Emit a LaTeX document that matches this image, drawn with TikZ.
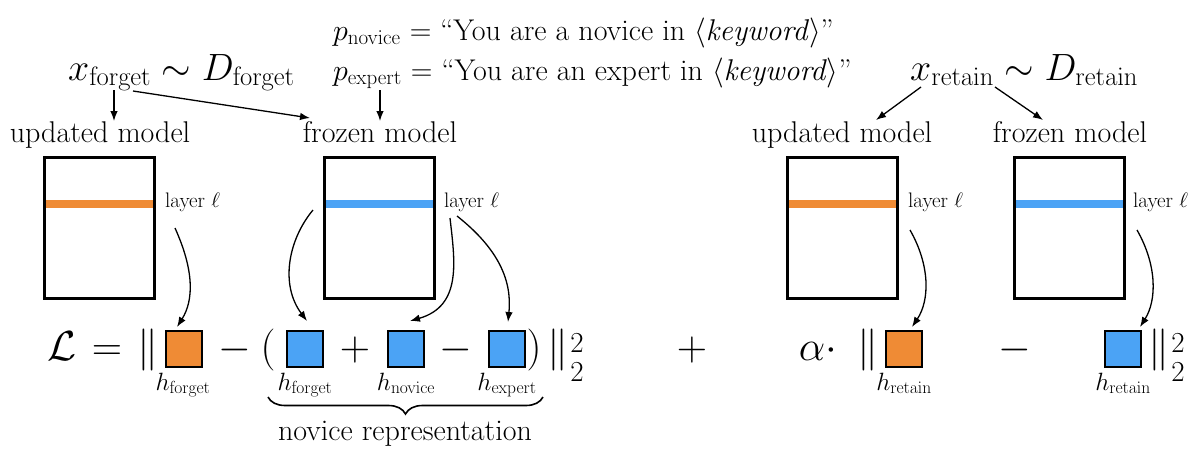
\documentclass[tikz,border=0pt]{standalone}
\usepackage{fix-cm}
\usetikzlibrary{arrows.meta,decorations.pathreplacing}
\definecolor{myorange}{HTML}{EF8B35}
\definecolor{myblue}{HTML}{4BA3F5}
\newcommand\txtsz{\fontsize{30}{34}\selectfont}
\newcommand\mthsz{\fontsize{38}{44}\selectfont}
\newcommand\eqsz{\fontsize{42}{48}\selectfont}
\newcommand\hsz{\fontsize{25}{30}\selectfont}
\newcommand\laysz{\fontsize{21}{25}\selectfont}
\newcommand\twosz{\fontsize{29}{30}\selectfont}
\begin{document}
\begin{tikzpicture}[x=1pt,y=-1pt,
  txt/.style={font=\txtsz, inner sep=0},
  mth/.style={font=\mthsz, inner sep=0},
  eqn/.style={font=\eqsz, inner sep=0, anchor=base},
  two/.style={font=\twosz, inner sep=0},
  hlab/.style={font=\hsz, inner sep=0, anchor=base},
  lay/.style={font=\laysz, inner sep=0, anchor=base west},
  modelbox/.style={draw, line width=3pt, minimum width=110pt, minimum height=141pt, inner sep=0},
  sqo/.style={draw, line width=2.2pt, fill=myorange, minimum width=36pt, minimum height=36pt, inner sep=0},
  sqb/.style={draw, line width=2.2pt, fill=myblue, minimum width=36pt, minimum height=36pt, inner sep=0},
  arr/.style={-{Latex[length=10pt,width=7.5pt]}, line width=1.3pt},
]
\useasboundingbox (0,0) rectangle (1200,450);

% top texts
\node[txt, anchor=base west] (pn) at (333,40) {$p_{\mathrm{novice}}$ = “You are a novice in $\langle$\textit{keyword}$\rangle$”};
\node[txt, anchor=base west] (pe) at (333,80) {$p_{\mathrm{expert}}$ = “You are an expert in $\langle$\textit{keyword}$\rangle$”};
\node[mth, anchor=base west] (xf) at (68,80) {$x_{\mathrm{forget}}\sim D_{\mathrm{forget}}$};
\node[mth, anchor=base west] (xr) at (910,80) {$x_{\mathrm{retain}}\sim D_{\mathrm{retain}}$};

% model labels
\node[txt, anchor=base] (um1) at (100,142) {updated model};
\node[txt, anchor=base] (fm1) at (380,142) {frozen model};
\node[txt, anchor=base] (um2) at (842,142) {updated model};
\node[txt, anchor=base] (fm2) at (1070,142) {frozen model};

% bars
\fill[myorange] (45,200) rectangle (154,208);
\fill[myblue] (325,200) rectangle (435,208);
\fill[myorange] (788,200) rectangle (897,208);
\fill[myblue] (1015,200) rectangle (1124,208);

% boxes
\node[modelbox] (b1) at (99,227.5) {};
\node[modelbox] (b2) at (379.5,227.5) {};
\node[modelbox] (b3) at (842.5,227.5) {};
\node[modelbox] (b4) at (1069.5,227.5) {};

% layer labels
\node[lay] (l1) at (165,207) {layer $\ell$};
\node[lay] (l2) at (444,207) {layer $\ell$};
\node[lay] (l3) at (908,207) {layer $\ell$};
\node[lay] (l4) at (1133,207) {layer $\ell$};

% equation
\node[eqn] (L) at (62,360) {$\mathcal{L}$};
\node[eqn] (eqs) at (107,360) {$=$};
\node[eqn] (n1) at (148,360) {$\|$};
\node[sqo] (ho1) at (184,349) {};
\node[eqn] (m1) at (235,360) {$-$};
\node[eqn] (lp) at (268,360) {$($};
\node[sqb] (hb1) at (305,349) {};
\node[eqn] (pl) at (355,360) {$+$};
\node[sqb] (hb2) at (406,349) {};
\node[eqn] (m2) at (456,360) {$-$};
\node[sqb] (hb3) at (507,349) {};
\node[eqn] (rp) at (534,360) {$)$};
\node[eqn] (n2) at (558,360) {$\|$};
\node[two] (s1) at (577,343) {2};
\node[two] (s2) at (577,372) {2};

\node[eqn] (plus) at (692,360) {$+$};
\node[eqn] (al) at (818,360) {$\alpha\cdot$};
\node[eqn] (n3) at (868,360) {$\|$};
\node[sqo] (ho2) at (904,349) {};
\node[eqn] (m3) at (1015,360) {$-$};
\node[sqb] (hb4) at (1123,349) {};
\node[eqn] (n4) at (1159,360) {$\|$};
\node[two] (s3) at (1178,343) {2};
\node[two] (s4) at (1178,372) {2};

% h labels
\node[hlab] (t1) at (183,390) {$h_{\mathrm{forget}}$};
\node[hlab] (t2) at (305,390) {$h_{\mathrm{forget}}$};
\node[hlab] (t3) at (406,390) {$h_{\mathrm{novice}}$};
\node[hlab] (t4) at (507,390) {$h_{\mathrm{expert}}$};
\node[hlab] (t5) at (904,390) {$h_{\mathrm{retain}}$};
\node[hlab] (t6) at (1123,390) {$h_{\mathrm{retain}}$};

% brace
\coordinate (bl) at (268,397);
\coordinate (br) at (543,397);
\draw[decorate, decoration={brace, mirror, amplitude=17pt}, line width=1.6pt] (bl) -- (br);
\node[txt, anchor=base] (nr) at (405,440) {novice representation};

% top arrows
\coordinate (a1s) at (114,90);  \coordinate (a1e) at (114,121);
\coordinate (a2s) at (133,91);  \coordinate (a2e) at (310,118);
\coordinate (a3s) at (380,90);  \coordinate (a3e) at (380,121);
\coordinate (a4s) at (921,87);  \coordinate (a4e) at (876,120);
\coordinate (a5s) at (995,87);  \coordinate (a5e) at (1043,120);
\draw[arr] (a1s) -- (a1e);
\draw[arr] (a2s) -- (a2e);
\draw[arr] (a3s) -- (a3e);
\draw[arr] (a4s) -- (a4e);
\draw[arr] (a5s) -- (a5e);

% curved arrows
\coordinate (c1s) at (175,228);  \coordinate (c1e) at (177,327);
\coordinate (c2s) at (313,210);  \coordinate (c2e) at (307,321);
\coordinate (c3s) at (450,218);  \coordinate (c3e) at (410,321);
\coordinate (c4s) at (457,216);  \coordinate (c4e) at (508,322);
\coordinate (c5s) at (910,230);  \coordinate (c5e) at (912,327);
\coordinate (c6s) at (1137,230); \coordinate (c6e) at (1140,327);
\draw[arr] (c1s) .. controls (194,270) and (194,300) .. (c1e);
\draw[arr] (c2s) .. controls (288,240) and (280,285) .. (c2e);
\draw[arr] (c3s) .. controls (455,262) and (462,306) .. (c3e);
\draw[arr] (c4s) .. controls (500,250) and (512,282) .. (c4e);
\draw[arr] (c5s) .. controls (930,265) and (930,300) .. (c5e);
\draw[arr] (c6s) .. controls (1157,265) and (1157,300) .. (c6e);
\end{tikzpicture}
\end{document}
